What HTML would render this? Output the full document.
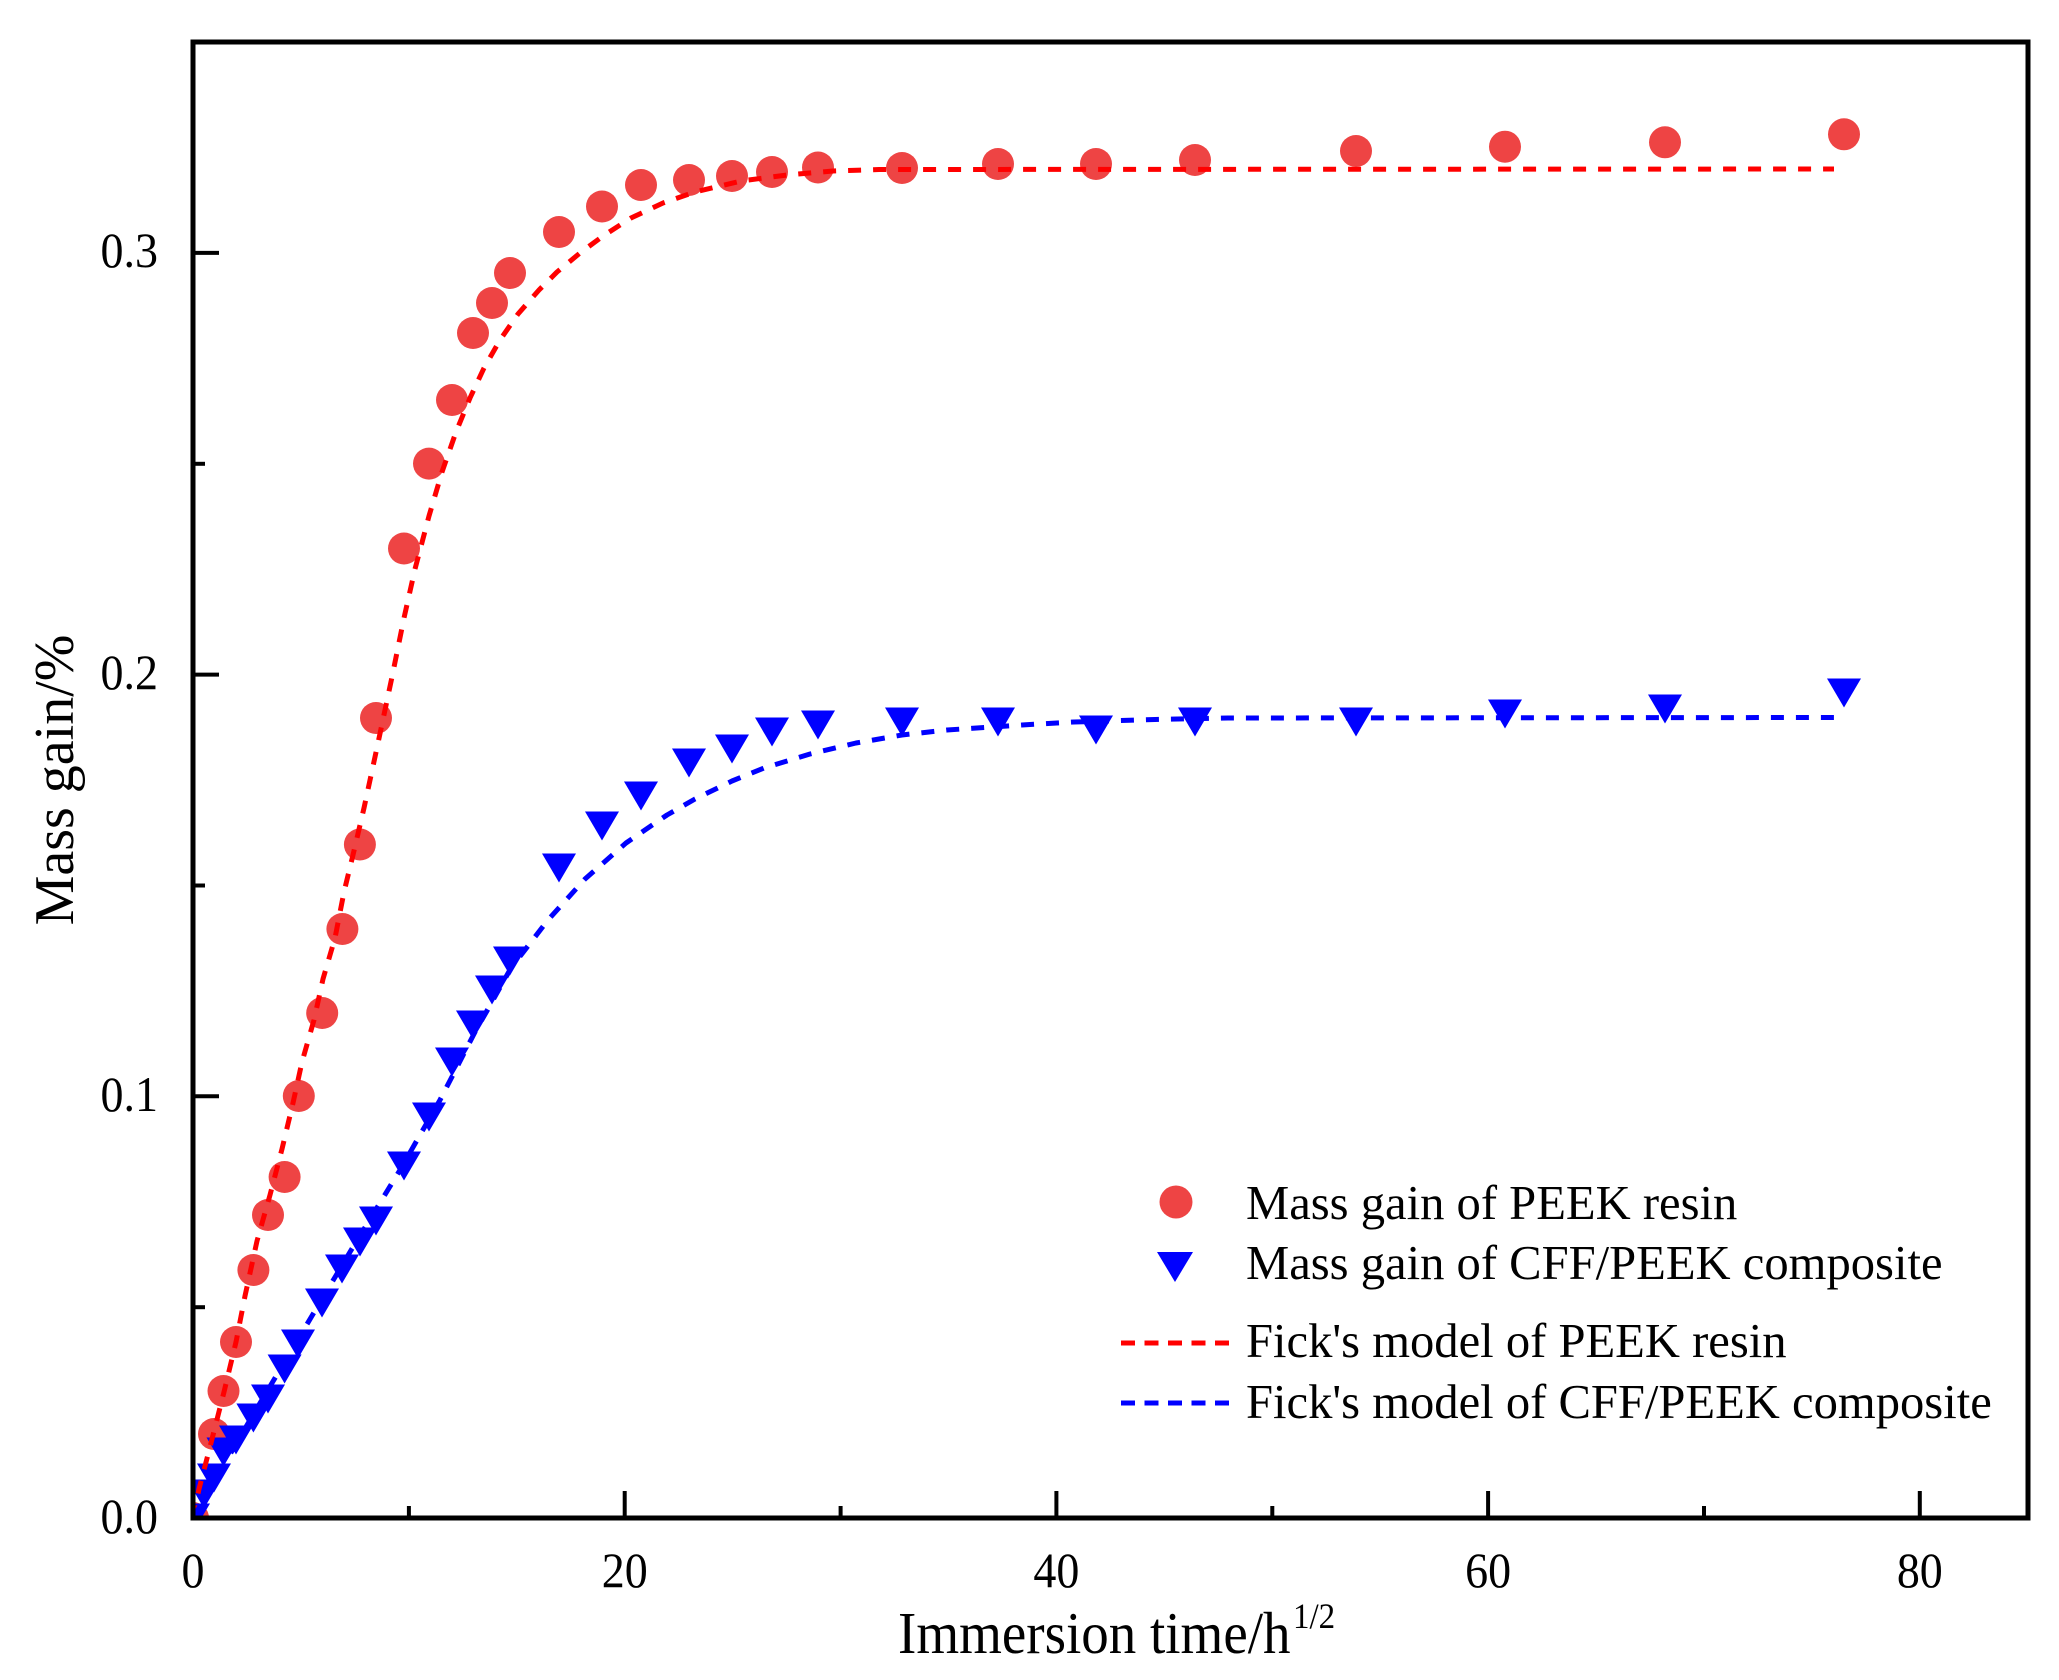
<!DOCTYPE html>
<html>
<head>
<meta charset="utf-8">
<style>
  html,body{margin:0;padding:0;background:#fff;}
  svg{display:block;}
  text{font-family:"Liberation Serif","Times New Roman",serif;fill:#000;}
</style>
</head>
<body>
<svg width="2059" height="1680" viewBox="0 0 2059 1680" xmlns="http://www.w3.org/2000/svg">
  <rect x="0" y="0" width="2059" height="1680" fill="#fff"/>
  <defs>
    <clipPath id="plot">
      <rect x="193" y="42" width="1835" height="1476"/>
    </clipPath>
  </defs>

  <g clip-path="url(#plot)">
    <!-- red circles -->
    <g fill="#EE4444">
      <circle cx="193" cy="1518" r="16"/>
      <circle cx="214" cy="1434" r="16"/>
      <circle cx="223.5" cy="1391" r="16"/>
      <circle cx="236" cy="1342" r="16"/>
      <circle cx="253.4" cy="1270" r="16"/>
      <circle cx="268" cy="1215" r="16"/>
      <circle cx="284.6" cy="1177" r="16"/>
      <circle cx="298.8" cy="1096" r="16"/>
      <circle cx="322.2" cy="1013" r="16"/>
      <circle cx="342.4" cy="929" r="16"/>
      <circle cx="359.9" cy="844.5" r="16"/>
      <circle cx="376" cy="718" r="16"/>
      <circle cx="404" cy="548.5" r="16"/>
      <circle cx="429" cy="463.6" r="16"/>
      <circle cx="452" cy="400" r="16"/>
      <circle cx="473" cy="333" r="16"/>
      <circle cx="492" cy="303" r="16"/>
      <circle cx="510" cy="273" r="16"/>
      <circle cx="559" cy="232" r="16"/>
      <circle cx="602" cy="206.5" r="16"/>
      <circle cx="641" cy="185" r="16"/>
      <circle cx="689" cy="180" r="16"/>
      <circle cx="732" cy="176" r="16"/>
      <circle cx="772" cy="172" r="16"/>
      <circle cx="818" cy="167.5" r="16"/>
      <circle cx="902" cy="168" r="16"/>
      <circle cx="998" cy="164" r="16"/>
      <circle cx="1096" cy="164" r="16"/>
      <circle cx="1195" cy="160" r="16"/>
      <circle cx="1356" cy="151" r="16"/>
      <circle cx="1505" cy="146.7" r="16"/>
      <circle cx="1665" cy="142.3" r="16"/>
      <circle cx="1844" cy="134.3" r="16"/>
    </g>

    <!-- blue triangles (down) -->
    <g fill="#0000FF">
      <polygon points="176,1503.5 210,1503.5 193,1532.5"/>
      <polygon points="187,1479.5 221,1479.5 204,1508.5"/>
      <polygon points="197,1463.5 231,1463.5 214,1492.5"/>
      <polygon points="206.5,1437.5 240.5,1437.5 223.5,1466.5"/>
      <polygon points="219,1425.5 253,1425.5 236,1454.5"/>
      <polygon points="236.4,1403.5 270.4,1403.5 253.4,1432.5"/>
      <polygon points="251,1384.5 285,1384.5 268,1413.5"/>
      <polygon points="267.6,1354.5 301.6,1354.5 284.6,1383.5"/>
      <polygon points="281,1329.5 315,1329.5 298,1358.5"/>
      <polygon points="305,1288.5 339,1288.5 322,1317.5"/>
      <polygon points="325,1254.5 359,1254.5 342,1283.5"/>
      <polygon points="343,1227.5 377,1227.5 360,1256.5"/>
      <polygon points="359,1206.5 393,1206.5 376,1235.5"/>
      <polygon points="387,1151.5 421,1151.5 404,1180.5"/>
      <polygon points="412,1102.5 446,1102.5 429,1131.5"/>
      <polygon points="435,1047.5 469,1047.5 452,1076.5"/>
      <polygon points="456,1010.5 490,1010.5 473,1039.5"/>
      <polygon points="475,975.5 509,975.5 492,1004.5"/>
      <polygon points="493,946.5 527,946.5 510,975.5"/>
      <polygon points="542,853.5 576,853.5 559,882.5"/>
      <polygon points="585,811.5 619,811.5 602,840.5"/>
      <polygon points="624,781.5 658,781.5 641,810.5"/>
      <polygon points="672,748.5 706,748.5 689,777.5"/>
      <polygon points="715,734.5 749,734.5 732,763.5"/>
      <polygon points="755,717.5 789,717.5 772,746.5"/>
      <polygon points="801,710.5 835,710.5 818,739.5"/>
      <polygon points="885,707.5 919,707.5 902,736.5"/>
      <polygon points="981,707.5 1015,707.5 998,736.5"/>
      <polygon points="1079,715.5 1113,715.5 1096,744.5"/>
      <polygon points="1178,707.5 1212,707.5 1195,736.5"/>
      <polygon points="1339,707.5 1373,707.5 1356,736.5"/>
      <polygon points="1488,699.5 1522,699.5 1505,728.5"/>
      <polygon points="1648,694.5 1682,694.5 1665,723.5"/>
      <polygon points="1827,678.5 1861,678.5 1844,707.5"/>
    </g>

    <!-- red Fick fit -->
    <polyline fill="none" stroke="#FF0000" stroke-width="5" stroke-dasharray="13 12" stroke-linejoin="round"
      points="193,1518 199,1489 211,1443 224,1392 236,1342 245,1296 257,1241 270,1195 282,1149 293,1103 302,1062 314,1020 323,979 335,938 344,892 353,855 364,808 378,743 392,677 404,618 415,569 429,516 442,472 456,432 470,398 484,368 500,340 518,314 539,290 557,272 580,253 603,236 631,218 663,203 695,192 741,181 787,175 833,171 879,169.5 1834,169"/>
    <!-- blue Fick fit -->
    <polyline fill="none" stroke="#0000FF" stroke-width="5" stroke-dasharray="13 12" stroke-linejoin="round"
      points="193,1518 250,1420 300,1336 350,1252 400,1170 440,1100 475,1032 511,968 548,920 585,879 626,843 667,815 695,799 732,781 764,768 810,754 856,743 902,735 947,730 1022,725 1074,722 1155,719.5 1228,718 1834,717.5"/>
  </g>

  <!-- frame -->
  <rect x="193" y="42" width="1835" height="1476" fill="none" stroke="#000" stroke-width="5"/>

  <!-- ticks -->
  <g stroke="#000" stroke-width="4">
    <line x1="193" y1="1096.3" x2="219" y2="1096.3"/>
    <line x1="193" y1="674.6" x2="219" y2="674.6"/>
    <line x1="193" y1="252.9" x2="219" y2="252.9"/>
    <line x1="193" y1="1307.2" x2="205" y2="1307.2"/>
    <line x1="193" y1="885.5" x2="205" y2="885.5"/>
    <line x1="193" y1="463.8" x2="205" y2="463.8"/>
    <line x1="624.7" y1="1518" x2="624.7" y2="1491"/>
    <line x1="1056.4" y1="1518" x2="1056.4" y2="1491"/>
    <line x1="1488.1" y1="1518" x2="1488.1" y2="1491"/>
    <line x1="1919.8" y1="1518" x2="1919.8" y2="1491"/>
    <line x1="408.9" y1="1518" x2="408.9" y2="1506"/>
    <line x1="840.6" y1="1518" x2="840.6" y2="1506"/>
    <line x1="1272.3" y1="1518" x2="1272.3" y2="1506"/>
    <line x1="1704" y1="1518" x2="1704" y2="1506"/>
  </g>

  <!-- y tick labels -->
  <g font-size="46" text-anchor="end">
    <text transform="translate(158,1533) scale(1,1.08)">0.0</text>
    <text transform="translate(158,1111) scale(1,1.08)">0.1</text>
    <text transform="translate(158,689) scale(1,1.08)">0.2</text>
    <text transform="translate(158,267) scale(1,1.08)">0.3</text>
  </g>

  <!-- x tick labels -->
  <g font-size="46" text-anchor="middle">
    <text transform="translate(193,1587) scale(1,1.08)">0</text>
    <text transform="translate(624.7,1587) scale(1,1.08)">20</text>
    <text transform="translate(1056.4,1587) scale(1,1.08)">40</text>
    <text transform="translate(1488.1,1587) scale(1,1.08)">60</text>
    <text transform="translate(1919.8,1587) scale(1,1.08)">80</text>
  </g>

  <!-- axis titles -->
  <text font-size="55" transform="translate(898,1653) scale(1,1.08)">Immersion time/h</text>
  <text font-size="33" transform="translate(1293,1628) scale(1,1.08)">1/2</text>
  <text font-size="56" text-anchor="middle" transform="translate(73,780) rotate(-90)">Mass gain/%</text>

  <!-- legend -->
  <circle cx="1176" cy="1202" r="16.5" fill="#EE4444"/>
  <polygon points="1157,1252 1193,1252 1175,1282" fill="#0000FF"/>
  <line x1="1121" y1="1343" x2="1238" y2="1343" stroke="#FF0000" stroke-width="5" stroke-dasharray="14 9.5"/>
  <line x1="1121" y1="1403" x2="1238" y2="1403" stroke="#0000FF" stroke-width="5" stroke-dasharray="14 9.5"/>
  <g font-size="48.6">
    <text x="1246" y="1219">Mass gain of PEEK resin</text>
    <text x="1246" y="1279">Mass gain of CFF/PEEK composite</text>
    <text x="1246" y="1357">Fick's model of PEEK resin</text>
    <text x="1246" y="1418">Fick's model of CFF/PEEK composite</text>
  </g>
</svg>
</body>
</html>
